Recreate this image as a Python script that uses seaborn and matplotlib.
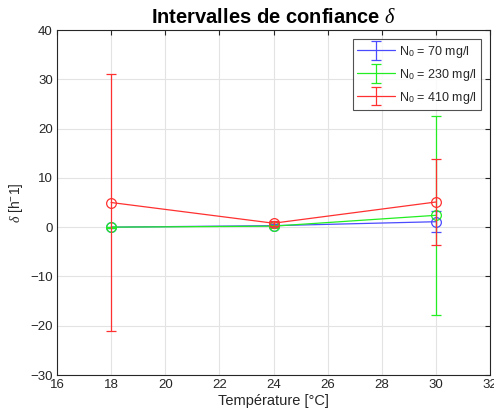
import matplotlib
matplotlib.use("Agg")
import matplotlib.pyplot as plt
import seaborn as sns
import pandas as pd
import numpy as np
from matplotlib.container import ErrorbarContainer
from matplotlib.legend_handler import HandlerErrorbar

temperatures = [18, 24, 30]
labels = ["N$_0$ = 70 mg/l", "N$_0$ = 230 mg/l", "N$_0$ = 410 mg/l"]
delta_70 = [0.0, 0.3, 1.1]
err_70 = [0.1, 0.3, 2.1]
delta_230 = [0.0, 0.2, 2.4]
err_230 = [0.1, 0.3, 20.2]
delta_410 = [5.0, 0.8, 5.1]
err_410 = [26.0, 0.5, 8.7]
colors = ["#4a4aff", "#22ee22", "#ff3030"]

xticks = list(range(16, 33, 2))
yticks = list(range(-30, 41, 10))

sns.set_style("whitegrid")
plt.rcParams['font.family'] = ['Liberation Sans', 'DejaVu Sans']
plt.rcParams['mathtext.fontset'] = 'custom'
plt.rcParams['mathtext.rm'] = 'Liberation Sans'
plt.rcParams['mathtext.it'] = 'Liberation Serif:italic'

fig = plt.figure(figsize=(4.94, 4.19), dpi=100)
ax = fig.add_axes([57/494, 1-375/419, 433/494, 345/419])

series = [(delta_70, err_70), (delta_230, err_230), (delta_410, err_410)]
handles = []
for (vals, errs), lab, col in zip(series, labels, colors):
    df = pd.DataFrame({"T": temperatures, "d": vals})
    sns.lineplot(data=df, x="T", y="d", ax=ax, color=col, lw=0.9,
                 marker="o", markersize=7, markerfacecolor="none",
                 markeredgecolor=col, markeredgewidth=0.9, legend=False)
    ax.errorbar(temperatures, vals, yerr=errs, fmt='none', ecolor=col,
                elinewidth=0.9, capsize=3.3, capthick=0.9)
    h = ax.errorbar([np.nan], [np.nan], yerr=[1.0], color=col, lw=0.9,
                    capsize=3.3, capthick=0.9, ecolor=col, marker='none')
    handles.append(h)

ax.set_xlim(16, 32)
ax.set_ylim(-30, 40)
ax.set_xticks(xticks)
ax.set_yticks(yticks)
ax.tick_params(direction='in', length=3.5, top=True, right=True,
               labelsize=9.5, colors='#262626', pad=3)
ax.grid(True, color='#e3e3e3', lw=0.8)
for s in ax.spines.values():
    s.set_color('#262626')
    s.set_linewidth(0.8)
ax.set_xlabel("Température [°C]", fontsize=10.5, color='#262626', labelpad=2)
ax.set_ylabel(r"$\delta$ [h$^{-}$1]", fontsize=10, color='#262626', labelpad=4)
ax.set_title(r"Intervalles de confiance $\delta$", fontsize=14.5,
             fontweight='bold', pad=5, color='black')

leg = ax.legend(handles, labels, loc='upper right', fontsize=9,
                frameon=True, fancybox=False, edgecolor='#262626',
                borderpad=0.35, handlelength=3.0, handletextpad=0.3,
                labelspacing=0.55, borderaxespad=0.75,
                handler_map={ErrorbarContainer: HandlerErrorbar(yerr_size=0.75)})
leg.get_frame().set_linewidth(0.8)

fig.savefig("out.png", dpi=100)
